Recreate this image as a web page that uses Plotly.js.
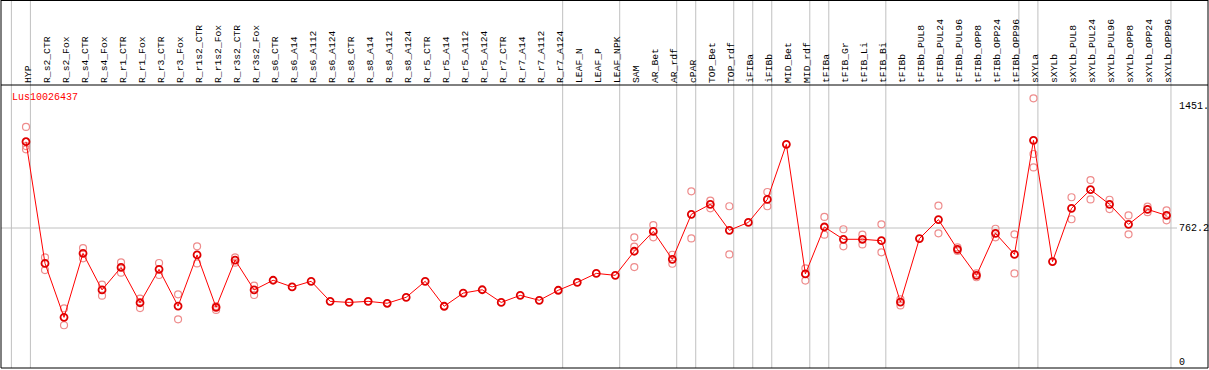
<!DOCTYPE html>
<html>
<head>
<meta charset="utf-8">
<script src="https://cdn.plot.ly/plotly-3.0.1.min.js"></script>
<style>html,body{margin:0;padding:0;background:#fff;}#chart{width:1209px;height:370px;}</style>
</head>
<body>
<div id="chart"></div>
<script>
const categories = ["HYP","R_s2_CTR","R_s2_Fox","R_s4_CTR","R_s4_Fox","R_r1_CTR","R_r1_Fox","R_r3_CTR","R_r3_Fox","R_r1s2_CTR","R_r1s2_Fox","R_r3s2_CTR","R_r3s2_Fox","R_s6_CTR","R_s6_A14","R_s6_A112","R_s6_A124","R_s8_CTR","R_s8_A14","R_s8_A112","R_s8_A124","R_r5_CTR","R_r5_A14","R_r5_A112","R_r5_A124","R_r7_CTR","R_r7_A14","R_r7_A112","R_r7_A124","LEAF_N","LEAF_P","LEAF_NPK","SAM","AR_Bet","AR_rdf","cPAR","TOP_Bet","TOP_rdf","iFIBa","iFIBb","MID_Bet","MID_rdf","tFIBa","tFIB_Gr","tFIB_Li","tFIB_Bi","tFIBb","tFIBb_PUL8","tFIBb_PUL24","tFIBb_PUL96","tFIBb_OPP8","tFIBb_OPP24","tFIBb_OPP96","sXYLa","sXYLb","sXYLb_PUL8","sXYLb_PUL24","sXYLb_PUL96","sXYLb_OPP8","sXYLb_OPP24","sXYLb_OPP96"];

const meanValues = [1253,561,254,618,410,538,337,527,318,609,311,580,410,465,427,459,345,339,345,334,368,459,317,392,411,339,379,351,408,453,504,493,630,743,584,840,897,749,794,925,1238,501,768,698,698,690,341,702,810,641,493,732,612,1261,571,874,980,897,783,868,834];

const rep1 = [1337,595,305,648,440,567,360,563,385,658,318,595,434,null,null,null,null,null,null,null,null,null,null,null,null,null,null,null,null,null,null,null,709,779,610,971,918,886,null,967,null,533,825,755,724,783,357,null,889,652,504,758,726,1500,null,937,1035,923,834,884,863];
const rep2 = [1228,523,209,590,377,508,307,495,243,561,296,565,381,null,null,null,null,null,null,null,null,null,null,null,null,null,null,null,null,null,null,null,656,709,559,703,874,612,null,886,null,463,724,658,669,624,322,null,732,632,482,709,504,1183,null,812,925,870,726,852,806];
const rep3 = [1210,null,null,null,null,null,null,null,null,null,null,null,null,null,null,null,null,null,null,null,null,null,null,null,null,null,null,null,null,null,null,null,540,null,null,null,null,null,null,null,null,null,null,null,null,null,null,null,null,null,null,null,null,1107,null,null,null,null,null,null,null];

// group boundaries (after these category indices)
const groupEnds = [-1,0,28,31,34,35,37,38,39,41,42,45,52,53,60];

const axisLabels = ["1451.","762.2","0"];
const axisLabelValues = [1451,762.2,0];

const W = 1209, H = 370;
const mL = 1, mR = 1, mT = 85, mB = 2;
const pw = W - mL - mR, ph = H - mT - mB;
const xr = [-1.315, 62.18];
const yr = [-34.1, 1575.6];

const idx = categories.map((c,i)=>i);
const labelPos = idx.map(i=>i+0.08);
const repX = [], repY = [];
[rep1,rep2,rep3].forEach(r=>r.forEach((v,i)=>{ if(v!==null){repX.push(i); repY.push(v);} }));

const FONT = "Liberation Mono, DejaVu Sans Mono, monospace";

const traces = [
  {x: repX, y: repY, type:'scatter', mode:'markers',
   marker:{symbol:'circle-open', size:7, color:'rgb(238,140,140)', line:{width:1.2, color:'rgb(238,140,140)'}},
   hoverinfo:'skip', cliponaxis:false},
  {x: idx, y: meanValues, type:'scatter', mode:'lines+markers',
   line:{color:'#ff0000', width:1},
   marker:{symbol:'circle-open', size:7, color:'#e00000', line:{width:1.8, color:'#e00000'}},
   cliponaxis:false}
];

const shapes = [];
const topP = 1 + mT/ph;
groupEnds.forEach(k=>{
  const xp = (k + 0.2315 - xr[0])/(xr[1]-xr[0]);
  shapes.push({type:'line', xref:'paper', yref:'paper', x0:xp, x1:xp, y0:0, y1:topP, line:{color:'#c0c0c0', width:1}, layer:'below'});
});
shapes.push({type:'line', xref:'paper', yref:'y', x0:0, x1:(1177-mL)/pw, y0:762.2, y1:762.2, line:{color:'#c0c0c0', width:1}, layer:'below'});
// frame
shapes.push({type:'line', xref:'paper', yref:'paper', x0:0, x1:1, y0:1, y1:1, line:{color:'#000', width:1}});
shapes.push({type:'line', xref:'paper', yref:'paper', x0:0, x1:1, y0:topP-0.5/ph, y1:topP-0.5/ph, line:{color:'#000', width:1}});
shapes.push({type:'line', xref:'paper', yref:'paper', x0:0, x1:1, y0:0, y1:0, line:{color:'#000', width:1}});
shapes.push({type:'line', xref:'paper', yref:'paper', x0:0, x1:0, y0:0, y1:topP, line:{color:'#000', width:1}});
shapes.push({type:'line', xref:'paper', yref:'paper', x0:1, x1:1, y0:0, y1:topP, line:{color:'#000', width:1}});

const annotations = [
  {text:'Lus10026437', xref:'paper', yref:'paper', x:(10-mL)/pw, y:1-(97.5-mT)/ph, xanchor:'left', yanchor:'middle', showarrow:false, font:{family:FONT, size:10, color:'#ff0000'}}
];
axisLabels.forEach((t,i)=>{
  annotations.push({text:t, xref:'paper', yref:'y', x:(1177-mL)/pw, y:axisLabelValues[i], xanchor:'left', yanchor:'middle', showarrow:false, font:{family:FONT, size:10, color:'#000'}});
});

const layout = {
  width: W, height: H,
  margin:{l:mL, r:mR, t:mT, b:mB, pad:0},
  paper_bgcolor:'#fff', plot_bgcolor:'#fff',
  showlegend:false,
  xaxis:{range:xr, side:'top', tickvals:labelPos, ticktext:categories, tickangle:-90, ticks:'', ticklen:0,
         tickfont:{family:FONT, size:9.7, color:'#000'}, showgrid:false, zeroline:false, showline:false, fixedrange:true, ticklabelstandoff:1},
  yaxis:{range:yr, showticklabels:false, showgrid:false, zeroline:false, showline:false, ticks:'', fixedrange:true},
  shapes: shapes,
  annotations: annotations
};

Plotly.newPlot('chart', traces, layout, {displayModeBar:false, staticPlot:true});
</script>
</body>
</html>
